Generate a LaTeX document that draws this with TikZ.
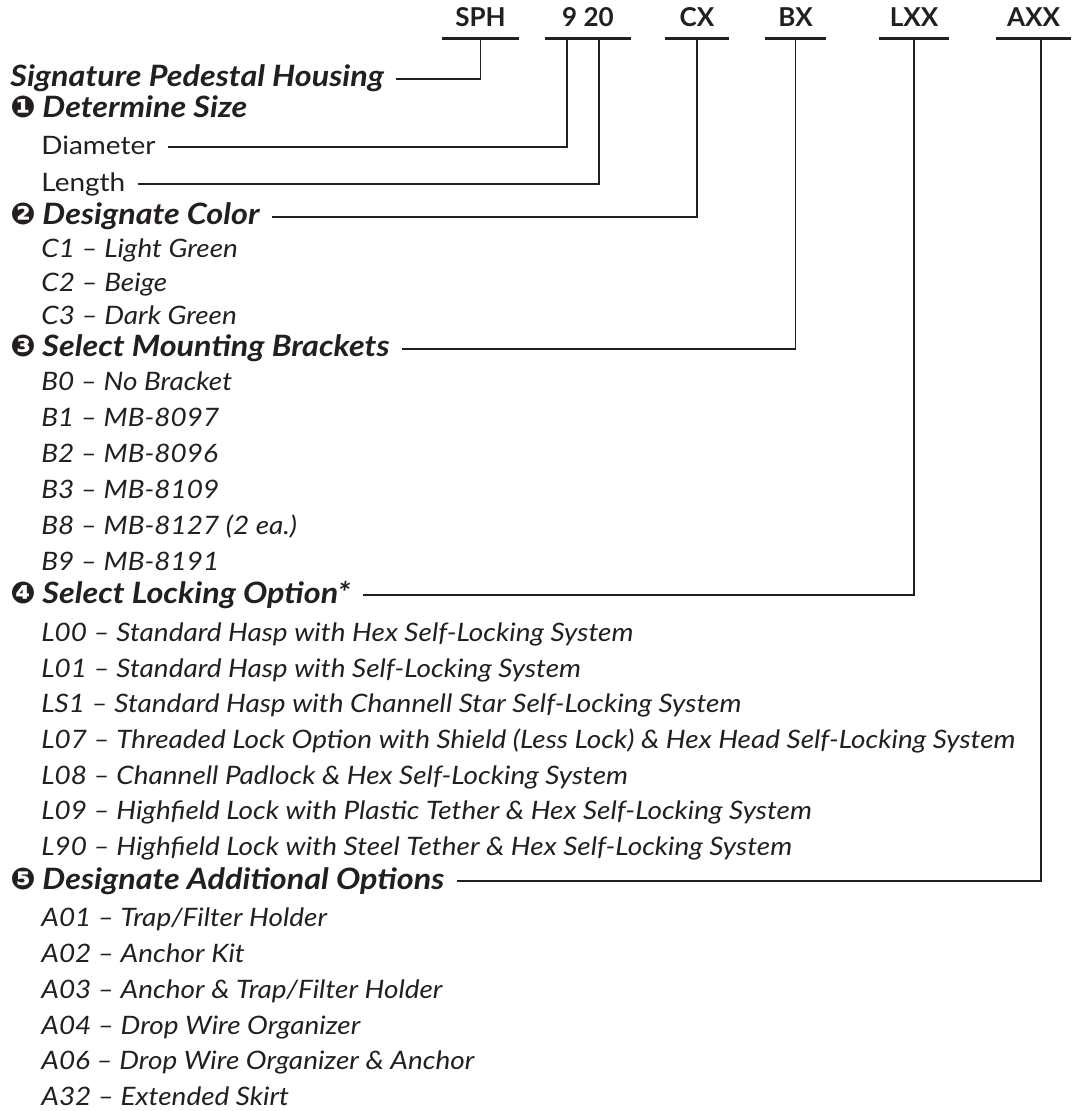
\documentclass[tikz,border=0pt]{standalone}
\usepackage{fontspec}
\setmainfont{Lato}[FakeStretch=1.1]
\newfontfamily\codefont{Lato}
\newfontfamily\symfont{DejaVu Sans}
\usetikzlibrary{positioning}

\definecolor{ink}{RGB}{35,31,32}
\newcommand{\stepmark}[1]{\makebox[16pt][l]{\symfont\fontsize{15}{17}\selectfont #1}}

\tikzset{
  code/.style={font=\codefont\bfseries\fontsize{13}{15}\selectfont, anchor=base, inner xsep=0pt, inner ysep=5.5pt, text=ink},
  head/.style={font=\bfseries\itshape\fontsize{14.7}{17}\selectfont, anchor=base west, inner sep=0pt, text height=8pt, text depth=0pt, text=ink},
  item/.style={font=\itshape\fontsize{12.7}{15}\selectfont, anchor=base west, inner sep=0pt, text height=8pt, text depth=0pt, text=ink},
  plain/.style={item, font=\fontsize{12.7}{15}\selectfont},
  link/.style={draw=ink, line width=0.6pt, shorten <=6pt},
  rule/.style={draw=ink, line width=1.2pt}
}

\begin{document}
\begin{tikzpicture}[x=0.5pt,y=-0.5pt]
\useasboundingbox (0,0) rectangle (1071,1111);

% part number
\node[code, minimum width=38.5pt] (sph) at (480.5,27) {SPH};
\node[code, minimum width=43pt] (size) at (588,27) {9 20};
\node[code, minimum width=32pt] (cx) at (697,27) {CX};
\node[code, minimum width=30.5pt] (bx) at (795.5,27) {BX};
\node[code, minimum width=35pt] (lxx) at (914,27) {LXX};
\node[code, minimum width=37.5pt] (axx) at (1033.5,27) {AXX};
\draw[rule] (sph.south west) -- (sph.south east);
\draw[rule] (size.south west) -- (size.south east);
\draw[rule] (cx.south west) -- (cx.south east);
\draw[rule] (bx.south west) -- (bx.south east);
\draw[rule] (lxx.south west) -- (lxx.south east);
\draw[rule] (axx.south west) -- (axx.south east);
\coordinate (dia) at (567,38);
\coordinate (len) at (599,38);
\coordinate (opt) at (1041,38);

% list
\node[head] (sig) at (10,87) {Signature Pedestal Housing};
\node[head] (det) at (10,118) {\stepmark{❶}Determine Size};
\node[plain] (diam) at (41,155) {Diameter};
\node[plain] (leng) at (41,192) {Length};
\node[head] (col) at (10,225) {\stepmark{❷}Designate Color};
\node[item] (c1) at (41,258) {C1 – Light Green};
\node[item] (c2) at (41,292) {C2 – Beige};
\node[item] (c3) at (41,325) {C3 – Dark Green};
\node[head] (mount) at (10,357) {\stepmark{❸}Select Mounting Brackets};
\node[item] (b0) at (41,391) {B0 – No Bracket};
\node[item] (b1) at (41,427) {B1 – MB-8097};
\node[item] (b2) at (41,463) {B2 – MB-8096};
\node[item] (b3) at (41,498) {B3 – MB-8109};
\node[item] (b8) at (41,534) {B8 – MB-8127 (2 ea.)};
\node[item] (b9) at (41,570) {B9 – MB-8191};
\node[head] (lock) at (10,603) {\stepmark{❹}Select Locking Option*};
\node[item] (l00) at (41,641) {L00 – Standard Hasp with Hex Self-Locking System};
\node[item] (l01) at (41,677) {L01 – Standard Hasp with Self-Locking System};
\node[item] (ls1) at (41,712) {LS1 – Standard Hasp with Channell Star Self-Locking System};
\node[item] (l07) at (41,748) {L07 – Threaded Lock Option with Shield (Less Lock) \& Hex Head Self-Locking System};
\node[item] (l08) at (41,784) {L08 – Channell Padlock \& Hex Self-Locking System};
\node[item] (l09) at (41,819) {L09 – Highfield Lock with Plastic Tether \& Hex Self-Locking System};
\node[item] (l90) at (41,855) {L90 – Highfield Lock with Steel Tether \& Hex Self-Locking System};
\node[head] (add) at (10,889) {\stepmark{❺}Designate Additional Options};
\node[item] (a01) at (41,926) {A01 – Trap/Filter Holder};
\node[item] (a02) at (41,962) {A02 – Anchor Kit};
\node[item] (a03) at (41,998) {A03 – Anchor \& Trap/Filter Holder};
\node[item] (a04) at (41,1034) {A04 – Drop Wire Organizer};
\node[item] (a06) at (41,1069) {A06 – Drop Wire Organizer \& Anchor};
\node[item] (a32) at (41,1105) {A32 – Extended Skirt};

% connectors
\draw[link] (sig.east) -| (sph.south);
\draw[link] (diam.east) -| (dia);
\draw[link] (leng.east) -| (len);
\draw[link] (col.east) -| (cx.south);
\draw[link] (mount.east) -| (bx.south);
\draw[link] (lock.east) -| (lxx.south);
\draw[link] (add.east) -| (opt);
\end{tikzpicture}
\end{document}
